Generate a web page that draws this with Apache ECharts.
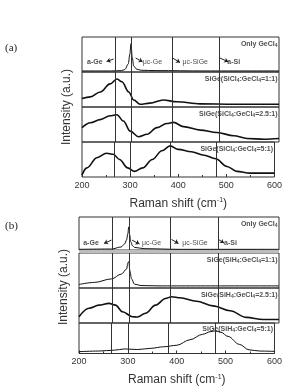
<!DOCTYPE html>
<html>
<head>
<meta charset="utf-8">
<script src="https://cdn.jsdelivr.net/npm/echarts@6/dist/echarts.min.js"></script>
<style>
  html, body { margin: 0; padding: 0; background: #fff; }
  #chart { width: 285px; height: 387px; }
</style>
</head>
<body>
<div id="chart"></div>
<script>
// Raman shift axis (cm-1)
const shiftTicks = [200, 300, 400, 500, 600]
// reference lines: a-Ge, uc-Ge, uc-SiGe, a-Si
const refLines = [267, 300, 383, 478]

// panel (a), intensity normalised to each strip (0..1)
const aOnlyGeCl4 = [[200, 0.03], [260, 0.03], [280, 0.04], [287, 0.07], [294, 0.23], [297, 0.5], [299.5, 0.81], [302, 0.42], [305, 0.17], [311, 0.08], [320, 0.05], [350, 0.04], [450, 0.03], [600, 0.03]]
const aSiCl4_1 = [[200, 0.24], [217, 0.29], [237, 0.43], [257, 0.66], [271, 0.8], [281, 0.72], [295, 0.43], [305, 0.2], [318, 0.08], [338, 0.11], [365, 0.2], [392, 0.15], [440, 0.09], [508, 0.08], [600, 0.08]]
const aSiCl4_25 = [[200, 0.41], [217, 0.55], [237, 0.64], [257, 0.75], [271, 0.78], [284, 0.6], [298, 0.31], [315, 0.15], [332, 0.22], [352, 0.41], [372, 0.53], [386, 0.56], [406, 0.44], [440, 0.34], [474, 0.27], [508, 0.18], [535, 0.1], [570, 0.08], [600, 0.1]]
const aSiCl4_5 = [[200, 0.06], [210, 0.26], [231, 0.55], [251, 0.68], [265, 0.65], [278, 0.5], [295, 0.26], [309, 0.16], [326, 0.26], [346, 0.5], [366, 0.75], [383, 0.89], [400, 0.79], [427, 0.72], [454, 0.62], [478, 0.52], [501, 0.3], [522, 0.16], [549, 0.11], [600, 0.11]]

// panel (b)
const bOnlyGeCl4 = [[200, 0.02], [265, 0.03], [284, 0.09], [291, 0.18], [295, 0.3], [297.5, 0.48], [299.5, 0.7], [301.5, 0.45], [303.5, 0.25], [307, 0.13], [311, 0.08], [330, 0.04], [400, 0.02], [600, 0.02]]
const bSiH4_1 = [[200, 0.1], [231, 0.16], [265, 0.26], [285, 0.4], [295, 0.54], [298, 0.73], [299.5, 0.75], [302, 0.48], [305, 0.26], [311, 0.11], [324, 0.07], [360, 0.06], [600, 0.06]]
const bSiH4_25 = [[200, 0.18], [220, 0.42], [240, 0.51], [260, 0.56], [273, 0.51], [287, 0.32], [307, 0.18], [317, 0.17], [333, 0.28], [353, 0.51], [373, 0.7], [385, 0.75], [402, 0.72], [435, 0.62], [468, 0.49], [502, 0.35], [535, 0.16], [568, 0.1], [600, 0.1]]
const bSiH4_5 = [[200, 0.06], [240, 0.08], [273, 0.11], [293, 0.15], [320, 0.13], [347, 0.17], [373, 0.22], [400, 0.27], [427, 0.45], [453, 0.63], [470, 0.72], [478, 0.74], [490, 0.7], [505, 0.56], [528, 0.3], [548, 0.12], [570, 0.08], [600, 0.07]]

// strip labels (right side)
const aLabels = ['Only GeCl{s|4}', 'SiGe(SiCl{s|4}:GeCl{s|4}=1:1)', 'SiGe(SiCl{s|4}:GeCl{s|4}=2.5:1)', 'SiGe(SiCl{s|4}:GeCl{s|4}=5:1)']
const bLabels = ['Only GeCl{s|4}', 'SiGe(SiH{s|4}:GeCl{s|4}=1:1)', 'SiGe(SiH{s|4}:GeCl{s|4}=2.5:1)', 'SiGe(SiH{s|4}:GeCl{s|4}=5:1)']

// phase annotations in top strip: text, x, y, bold
const phaseNames = ['a-Ge', '\u03bcc-Ge', '\u03bcc-SiGe', 'a-Si']
const phaseBold = [true, false, false, true]
const aPhaseX = [226, 343, 430, 508]
const bPhaseX = [224, 345, 432, 503]
// arrows: [fromX, fromY, toX, toY]
const aArrows = [[264, 0.37, 250, 0.3], [309, 0.4, 323, 0.29], [384, 0.4, 399, 0.27], [480, 0.4, 497, 0.29]]
const bArrows = [[265, 0.3, 250, 0.2], [306, 0.3, 321, 0.18], [385, 0.32, 399, 0.2], [479, 0.32, 490, 0.21]]

const chart = echarts.init(document.getElementById('chart'))

const gridDefs = [
  // panel (a)
  { left: 82, top: 37, height: 35 },
  { left: 82, top: 72, height: 35 },
  { left: 82, top: 107, height: 35 },
  { left: 82, top: 142, height: 35 },
  // panel (b)
  { left: 79, top: 217, height: 33 },
  { left: 79, top: 253, height: 35 },
  { left: 79, top: 288, height: 35 },
  { left: 79, top: 323, height: 34 }
]

const grids = gridDefs.map(g => ({
  left: g.left, top: g.top, height: g.height, right: 6,
  show: true, borderColor: '#333', borderWidth: 1
}))

const xAxes = gridDefs.map((g, i) => {
  const bottom = i === 3 || i === 7
  return {
    type: 'value', gridIndex: i,
    min: shiftTicks[0], max: shiftTicks[shiftTicks.length - 1], interval: 100,
    axisLine: { show: false },
    splitLine: { show: false },
    axisTick: { show: bottom, inside: true, length: 3, lineStyle: { color: '#333' } },
    minorTick: { show: bottom, splitNumber: 2, length: 2, lineStyle: { color: '#333' } },
    axisLabel: { show: bottom, fontSize: 9, color: '#333', margin: 4, fontFamily: 'Liberation Sans' },
    name: bottom ? 'Raman shift (cm{sup|-1})' : '',
    nameLocation: 'middle',
    nameGap: 20,
    nameTextStyle: {
      fontSize: 12, color: '#333', fontFamily: 'Liberation Sans',
      rich: { sup: { fontSize: 7, color: '#333', verticalAlign: 'top', padding: [0, 0, 6, 0] } }
    }
  }
})

const yAxes = gridDefs.map((g, i) => ({
  type: 'value', gridIndex: i, min: 0, max: 1, show: false
}))

const spectra = [aOnlyGeCl4, aSiCl4_1, aSiCl4_25, aSiCl4_5, bOnlyGeCl4, bSiH4_1, bSiH4_25, bSiH4_5]
const noisy = [false, true, true, true, false, false, true, false]

const series = []

spectra.forEach((d, i) => {
  series.push({
    type: 'line', xAxisIndex: i, yAxisIndex: i,
    data: d, showSymbol: false, smooth: 0.35, smoothMonotone: 'x',
    lineStyle: { color: '#111', width: noisy[i] ? 1.6 : 1 },
    silent: true,
    markLine: {
      silent: true, symbol: 'none', animation: false,
      label: { show: false },
      lineStyle: { color: '#333', width: 1, type: 'solid' },
      data: refLines.map(x => ({ xAxis: x }))
    }
  })
})

// right-hand strip labels
const labelRich = {
  s: { fontSize: 5, fontWeight: 'bold', color: '#222', fontFamily: 'Liberation Sans', verticalAlign: 'bottom', padding: [4, 0, 0, 0] }
}
const allLabels = aLabels.concat(bLabels)
allLabels.forEach((t, i) => {
  series.push({
    type: 'scatter', xAxisIndex: i, yAxisIndex: i, symbolSize: 0, silent: true,
    data: [[597, 0.8]],
    label: {
      show: true, position: 'left', distance: 0,
      formatter: t, fontSize: 7, fontWeight: 'bold', color: '#222',
      fontFamily: 'Liberation Sans', rich: labelRich
    }
  })
})

// phase annotations and arrows in top strips
function phaseSeries(idx, xs, yText, arrows) {
  series.push({
    type: 'scatter', xAxisIndex: idx, yAxisIndex: idx, symbolSize: 0, silent: true,
    data: phaseNames.map((n, k) => ({
      value: [xs[k], yText],
      label: {
        show: true, position: 'inside', formatter: n, fontSize: 7,
        fontWeight: phaseBold[k] ? 'bold' : 'normal', color: '#222',
        fontFamily: 'Liberation Sans'
      }
    })),
    markLine: {
      silent: true, animation: false,
      symbol: ['none', 'arrow'], symbolSize: [4, 4],
      label: { show: false },
      lineStyle: { color: '#222', width: 1, type: 'solid' },
      data: arrows.map(a => [{ coord: [a[0], a[1]] }, { coord: [a[2], a[3]] }])
    }
  })
}
phaseSeries(0, aPhaseX, 0.28, aArrows)
phaseSeries(4, bPhaseX, 0.2, bArrows)

chart.setOption({
  animation: false,
  backgroundColor: '#fff',
  title: [
    { text: '(a)', left: 0, top: 38, textStyle: { fontFamily: 'Liberation Serif', fontSize: 11, fontWeight: 'normal', color: '#222' } },
    { text: '(b)', left: 0, top: 216, textStyle: { fontFamily: 'Liberation Serif', fontSize: 11, fontWeight: 'normal', color: '#222' } }
  ],
  graphic: [
    { type: 'rect', shape: { x: 79, y: 250, width: 200, height: 3 }, style: { fill: '#bdbdbd' }, silent: true },
    { type: 'text', x: 67, y: 107, rotation: Math.PI / 2,
      style: { text: 'Intensity (a.u.)', fontSize: 12, fill: '#333', align: 'center', verticalAlign: 'middle', fontFamily: 'Liberation Sans' } },
    { type: 'text', x: 64, y: 287, rotation: Math.PI / 2,
      style: { text: 'Intensity (a.u.)', fontSize: 12, fill: '#333', align: 'center', verticalAlign: 'middle', fontFamily: 'Liberation Sans' } }
  ],
  grid: grids,
  xAxis: xAxes,
  yAxis: yAxes,
  series: series
})

window.addEventListener('resize', () => chart.resize())
</script>
</body>
</html>
